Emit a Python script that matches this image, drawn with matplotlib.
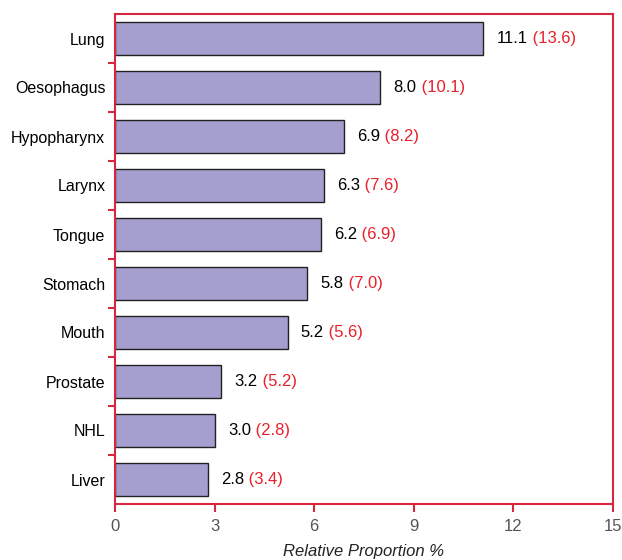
import matplotlib
matplotlib.use('Agg')
import matplotlib.pyplot as plt

plt.rcParams['font.family'] = ['Liberation Sans', 'DejaVu Sans']

# cancer sites, top to bottom
sites = ['Lung', 'Oesophagus', 'Hypopharynx', 'Larynx', 'Tongue',
         'Stomach', 'Mouth', 'Prostate', 'NHL', 'Liver']
proportion = [11.1, 8.0, 6.9, 6.3, 6.2, 5.8, 5.2, 3.2, 3.0, 2.8]
proportion_alt = [13.6, 10.1, 8.2, 7.6, 6.9, 7.0, 5.6, 5.2, 2.8, 3.4]
xticks = [0, 3, 6, 9, 12, 15]

RED = '#d7263d'
TXT_RED = '#e8202a'
BAR = '#a59fcf'

fig = plt.figure(figsize=(6.22, 5.6), dpi=100)
ax = fig.add_axes([0.185, 0.1, 0.800, 0.875])

pos = list(range(len(sites)))
ax.barh(pos, proportion, height=0.66, color=BAR, edgecolor='#222222',
        linewidth=1.0, zorder=2)

for y, val, alt in zip(pos, proportion, proportion_alt):
    t = ax.text(val + 0.4, y, '%.1f' % val, va='center', ha='left',
                fontsize=12, color='black')
    ax.annotate(' (%.1f)' % alt, xy=(1, 0.5), xycoords=t,
                va='center', ha='left', fontsize=12, color=TXT_RED)

ax.set_xlim(0, 15)
ax.set_ylim(len(sites) - 0.5, -0.5)
ax.set_xticks(xticks)
ax.set_xticklabels([str(x) for x in xticks])
ax.set_yticks(pos)
ax.set_yticklabels(sites)
ax.set_yticks([p + 0.5 for p in pos[:-1]], minor=True)

for s in ax.spines.values():
    s.set_color(RED)
    s.set_linewidth(1.5)

ax.tick_params(axis='x', colors=RED, labelcolor='#555555', labelsize=12,
               direction='out', length=6, width=1.5, pad=5)
ax.tick_params(axis='y', which='major', length=0, labelsize=11.5,
               labelcolor='black', pad=7)
ax.tick_params(axis='y', which='minor', colors=RED, direction='out',
               length=5, width=1.5)

ax.set_xlabel('Relative Proportion %', fontsize=12, style='italic',
              color='#222222', labelpad=7)

fig.savefig('out.png', dpi=100)
